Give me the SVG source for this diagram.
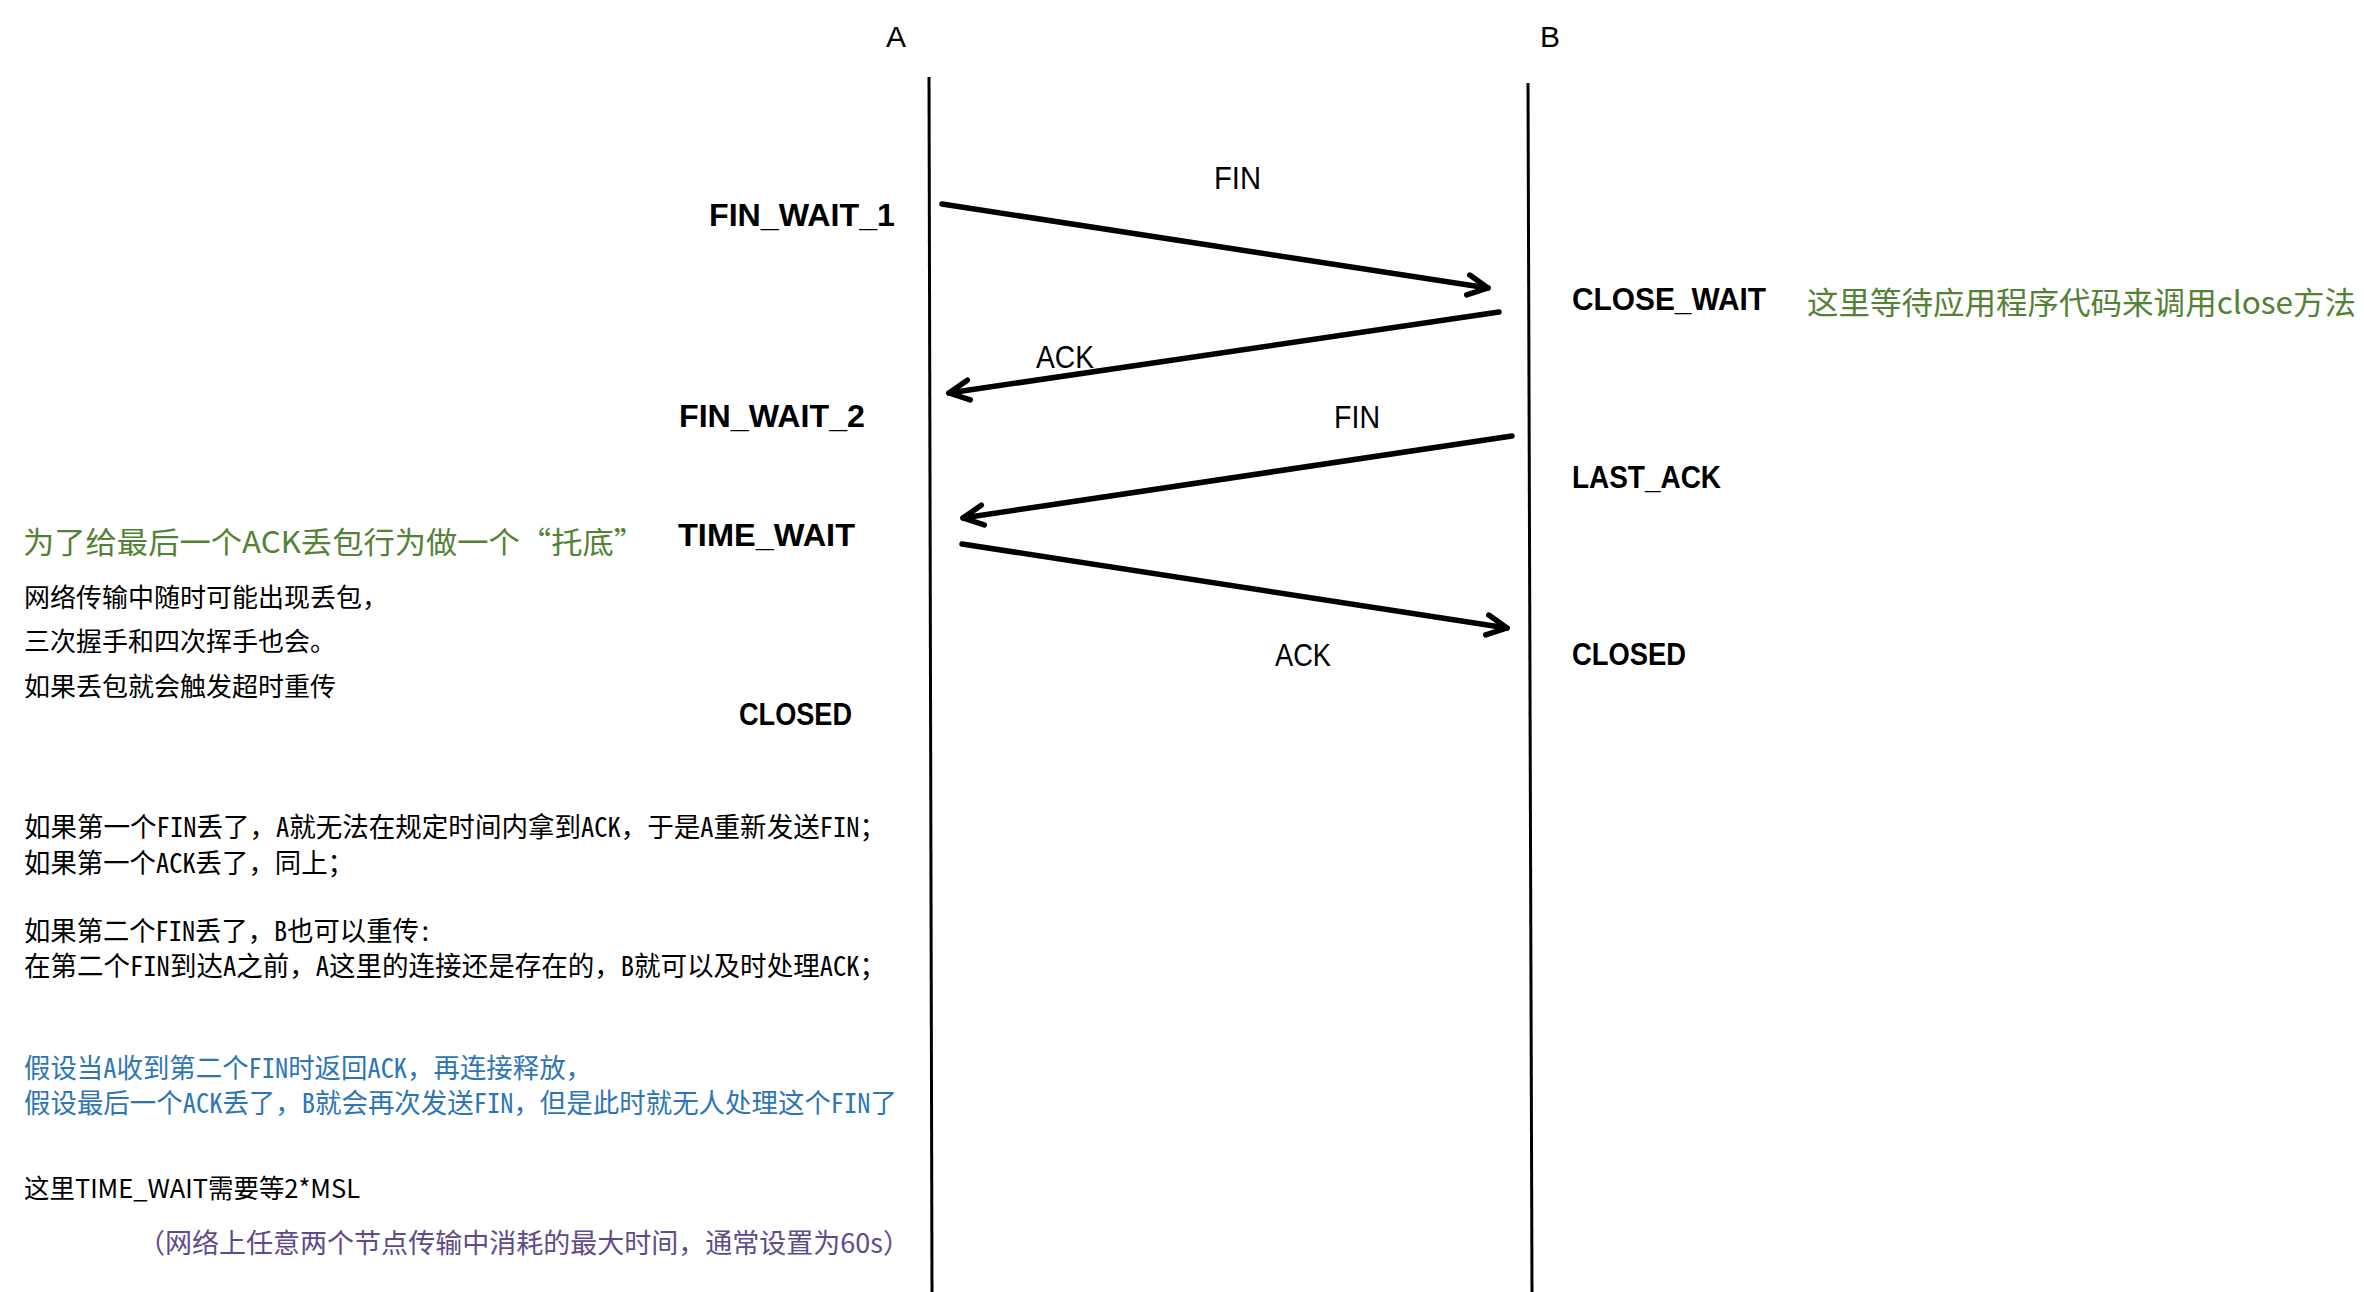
<svg xmlns="http://www.w3.org/2000/svg" width="2364" height="1292" viewBox="0 0 2364 1292">
<style>
.bg{fill:#ffffff}
.life{stroke:#000;stroke-width:3;fill:none}
.msg{stroke:#000;stroke-width:5.5;fill:none;stroke-linecap:round}
.hd{font-family:"Liberation Sans",Arial,sans-serif;font-size:30px;fill:#000}
.st{font-family:"Liberation Sans",Arial,sans-serif;font-size:31px;font-weight:bold;fill:#000}
.ml{font-family:"Liberation Sans",Arial,sans-serif;font-size:31px;fill:#000}
.cn{font-family:"Noto Sans CJK SC",sans-serif;font-size:26px;fill:#000}
.mono{font-family:"Noto Sans Mono CJK SC","Liberation Mono","Noto Sans CJK SC",monospace;font-size:27px}
.blk{fill:#000}
.blue{fill:#2E75B6}
.green{fill:#548235}
.purple{fill:#5F4B8B}
</style>
<defs>
<marker id="ah" markerUnits="userSpaceOnUse" viewBox="-25 -15 30 30" markerWidth="30" markerHeight="30" refX="0" refY="0" orient="auto" overflow="visible">
<path d="M-20,-10 L0,0 L-20,10" fill="none" stroke="#000" stroke-width="5.5" stroke-linecap="round" stroke-linejoin="round"/>
</marker>
</defs>
<rect class="bg" x="0" y="0" width="2364" height="1292"/>

<g id="lifeline-A">
<line class="life" x1="929" y1="77" x2="932" y2="1292"/>
<text class="hd" x="896" y="47" text-anchor="middle">A</text>
</g>
<g id="lifeline-B">
<line class="life" x1="1528" y1="83" x2="1532" y2="1292"/>
<text class="hd" x="1550" y="47" text-anchor="middle">B</text>
</g>

<g id="state-fin-wait-1"><text class="st" x="709" y="226" textLength="186" lengthAdjust="spacingAndGlyphs">FIN_WAIT_1</text></g>
<g id="state-fin-wait-2"><text class="st" x="679" y="427" textLength="186" lengthAdjust="spacingAndGlyphs">FIN_WAIT_2</text></g>
<g id="state-time-wait"><text class="st" x="678" y="546" textLength="177" lengthAdjust="spacingAndGlyphs">TIME_WAIT</text></g>
<g id="state-closed-a"><text class="st" x="739" y="725" textLength="113" lengthAdjust="spacingAndGlyphs">CLOSED</text></g>
<g id="state-close-wait"><text class="st" x="1572" y="310" textLength="194" lengthAdjust="spacingAndGlyphs">CLOSE_WAIT</text></g>
<g id="state-last-ack"><text class="st" x="1572" y="488" textLength="149" lengthAdjust="spacingAndGlyphs">LAST_ACK</text></g>
<g id="state-closed-b"><text class="st" x="1572" y="665" textLength="114" lengthAdjust="spacingAndGlyphs">CLOSED</text></g>

<g id="connectors">
<line class="msg" x1="942" y1="204" x2="1488" y2="288" marker-end="url(#ah)"/>
<line class="msg" x1="1499" y1="312" x2="949" y2="393" marker-end="url(#ah)"/>
<line class="msg" x1="1512" y1="436" x2="963" y2="518" marker-end="url(#ah)"/>
<line class="msg" x1="962" y1="544" x2="1507" y2="628" marker-end="url(#ah)"/>
<text class="ml" x="1214" y="189" textLength="47" lengthAdjust="spacingAndGlyphs">FIN</text>
<text class="ml" x="1036" y="368" textLength="58" lengthAdjust="spacingAndGlyphs">ACK</text>
<text class="ml" x="1334" y="428" textLength="46" lengthAdjust="spacingAndGlyphs">FIN</text>
<text class="ml" x="1275" y="666" textLength="56" lengthAdjust="spacingAndGlyphs">ACK</text>
</g>

<g id="note-close-wait">
<text class="cn green" x="1807" y="314" style="font-size:31px" textLength="549" lengthAdjust="spacingAndGlyphs">这里等待应用程序代码来调用close方法</text>
</g>

<g id="note-time-wait">
<text class="cn green" x="23" y="553" style="font-size:30px" textLength="622" lengthAdjust="spacingAndGlyphs">为了给最后一个ACK丢包行为做一个“托底”</text>
<text class="cn" x="24" y="607">网络传输中随时可能出现丢包，</text>
<text class="cn" x="24" y="651">三次握手和四次挥手也会。</text>
<text class="cn" x="24" y="696">如果丢包就会触发超时重传</text>
</g>

<g id="note-loss-cases">
<text class="mono blk" x="24" y="837" textLength="862" lengthAdjust="spacingAndGlyphs">如果第一个FIN丢了，A就无法在规定时间内拿到ACK，于是A重新发送FIN；</text>
<text class="mono blk" x="24" y="873" textLength="330" lengthAdjust="spacingAndGlyphs">如果第一个ACK丢了，同上；</text>
<text class="mono blk" x="24" y="941" textLength="408" lengthAdjust="spacingAndGlyphs">如果第二个FIN丢了，B也可以重传:</text>
<text class="mono blk" x="24" y="976" textLength="862" lengthAdjust="spacingAndGlyphs">在第二个FIN到达A之前，A这里的连接还是存在的，B就可以及时处理ACK；</text>
<text class="mono blue" x="24" y="1078" textLength="568" lengthAdjust="spacingAndGlyphs">假设当A收到第二个FIN时返回ACK，再连接释放，</text>
<text class="mono blue" x="24" y="1113" textLength="873" lengthAdjust="spacingAndGlyphs">假设最后一个ACK丢了，B就会再次发送FIN，但是此时就无人处理这个FIN了</text>
</g>

<g id="note-msl">
<text class="cn" x="24" y="1198" textLength="336" lengthAdjust="spacingAndGlyphs">这里TIME_WAIT需要等2*MSL</text>
<text class="cn purple" x="138" y="1253" style="font-size:27px" textLength="772" lengthAdjust="spacingAndGlyphs">（网络上任意两个节点传输中消耗的最大时间，通常设置为60s）</text>
</g>
</svg>
